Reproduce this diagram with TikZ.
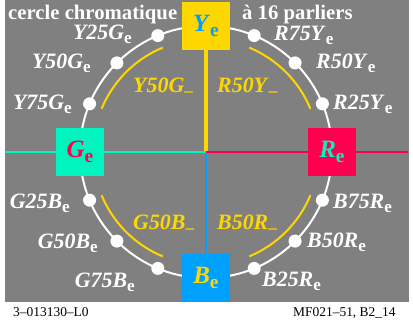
\documentclass[tikz,border=0pt]{standalone}
\usepackage{fontspec}
\setmainfont{Liberation Serif}

\definecolor{bggray}{RGB}{128,128,128}
\definecolor{cmyel}{RGB}{255,215,0}
\definecolor{cmgreen}{RGB}{0,245,190}
\definecolor{cmred}{RGB}{255,0,80}
\definecolor{cmblue}{RGB}{0,160,255}

\newcommand{\lvl}[2]{\textit{#1}\raisebox{-0.22em}{\scalebox{0.78}{\upshape #2}}}

\begin{document}
\begin{tikzpicture}[
    x=1bp, y=1bp,
    axis/.style={
        line width=2bp,
    },
    ring/.style={
        draw=white,
        line width=2bp,
    },
    inarc/.style={
        draw=cmyel,
        line width=2bp,
    },
    hue/.style={
        minimum size=48bp,
        inner sep=0pt,
        font=\fontsize{25}{30}\selectfont\bfseries,
    },
    dot/.style={
        circle,
        fill=white,
        minimum size=13bp,
        inner sep=0pt,
    },
    outlbl/.style={
        text=white,
        inner sep=0pt,
        font=\fontsize{22}{26}\selectfont\bfseries,
    },
    inlbl/.style={
        text=cmyel,
        inner sep=0pt,
        anchor=base west,
        font=\fontsize{22}{26}\selectfont\bfseries,
    },
    title/.style={
        text=white,
        inner sep=0pt,
        anchor=base west,
        font=\fontsize{20.8}{25}\selectfont\bfseries,
    },
    foot/.style={
        inner sep=0pt,
        anchor=base west,
        font=\fontsize{13.5}{16}\selectfont,
    }
]
    \useasboundingbox (0,0) rectangle (413,325);
    \fill[bggray] (5,23) rectangle (409,325);

    % Centre and axis ends
    \coordinate (c) at (206,173);
    \coordinate (w) at (5,173);
    \coordinate (e) at (408,173);

    % Hue circle
    \draw[ring] (c) circle[radius=126];
    \foreach \a in {22.5,112.5,202.5,292.5}
        \draw[inarc] ([shift={(\a:113)}]c) arc[start angle=\a, delta angle=45, radius=113];

    % Elementary hues
    \node[hue, fill=cmyel, text=cmblue] (Ye) at ([shift={(90:126)}]c) {\lvl{Y}{e}};
    \node[hue, fill=cmgreen, text=cmred] (Ge) at ([shift={(180:126)}]c) {\lvl{G}{e}};
    \node[hue, fill=cmred, text=cmgreen] (Re) at ([shift={(0:126)}]c) {\lvl{R}{e}};
    \node[hue, fill=cmblue, text=cmyel] (Be) at ([shift={(270:126)}]c) {\lvl{B}{e}};

    % Axes
    \draw[axis, cmyel, line width=3.5bp] (c) -- (Ye.south);
    \draw[axis, cmblue] (c) -- (Be.north);
    \draw[axis, cmgreen] (w) -- (Ge.west);
    \draw[axis, cmgreen] (Ge.east) -- (c);
    \draw[axis, cmred] (c) -- (Re.west);
    \draw[axis, cmred] (Re.east) -- (e);

    % Intermediate steps
    \foreach \a [count=\i] in {22.5,45,67.5,112.5,135,157.5,202.5,225,247.5,292.5,315,337.5}
        \node[dot] (d\i) at ([shift={(\a:126)}]c) {};

    % Step labels
    \node[outlbl, anchor=base west] (lR75Y) at (274,285) {\lvl{R75Y}{e}};
    \node[outlbl, anchor=base west] (lR50Y) at (316,257) {\lvl{R50Y}{e}};
    \node[outlbl, anchor=base west] (lR25Y) at (333,216) {\lvl{R25Y}{e}};
    \node[outlbl, anchor=base east] (lY25G) at (132,286) {\lvl{Y25G}{e}};
    \node[outlbl, anchor=base east] (lY50G) at (91,257) {\lvl{Y50G}{e}};
    \node[outlbl, anchor=base east] (lY75G) at (72,216) {\lvl{Y75G}{e}};
    \node[outlbl, anchor=base east] (lG25B) at (70,117) {\lvl{G25B}{e}};
    \node[outlbl, anchor=base east] (lG50B) at (98,77) {\lvl{G50B}{e}};
    \node[outlbl, anchor=base east] (lG75B) at (135,38) {\lvl{G75B}{e}};
    \node[outlbl, anchor=base west] (lB75R) at (333,117) {\lvl{B75R}{e}};
    \node[outlbl, anchor=base west] (lB50R) at (307,78) {\lvl{B50R}{e}};
    \node[outlbl, anchor=base west] (lB25R) at (262,39) {\lvl{B25R}{e}};

    % Inner labels
    \node[inlbl] (iY50G) at (133,233) {\lvl{Y50G}{--}};
    \node[inlbl] (iR50Y) at (217,233) {\lvl{R50Y}{--}};
    \node[inlbl] (iG50B) at (133,96) {\lvl{G50B}{--}};
    \node[inlbl] (iB50R) at (217,96) {\lvl{B50R}{--}};

    % Title and footer
    \node[title] (ttl) at (8,306) {cercle chromatique};
    \node[title] (ttr) at (242,306) {à 16 parliers};
    \node[foot] (ftl) at (13,9) {3--013130--L0};
    \node[foot] (ftr) at (293,9) {MF021--51, B2\_14};
\end{tikzpicture}
\end{document}
